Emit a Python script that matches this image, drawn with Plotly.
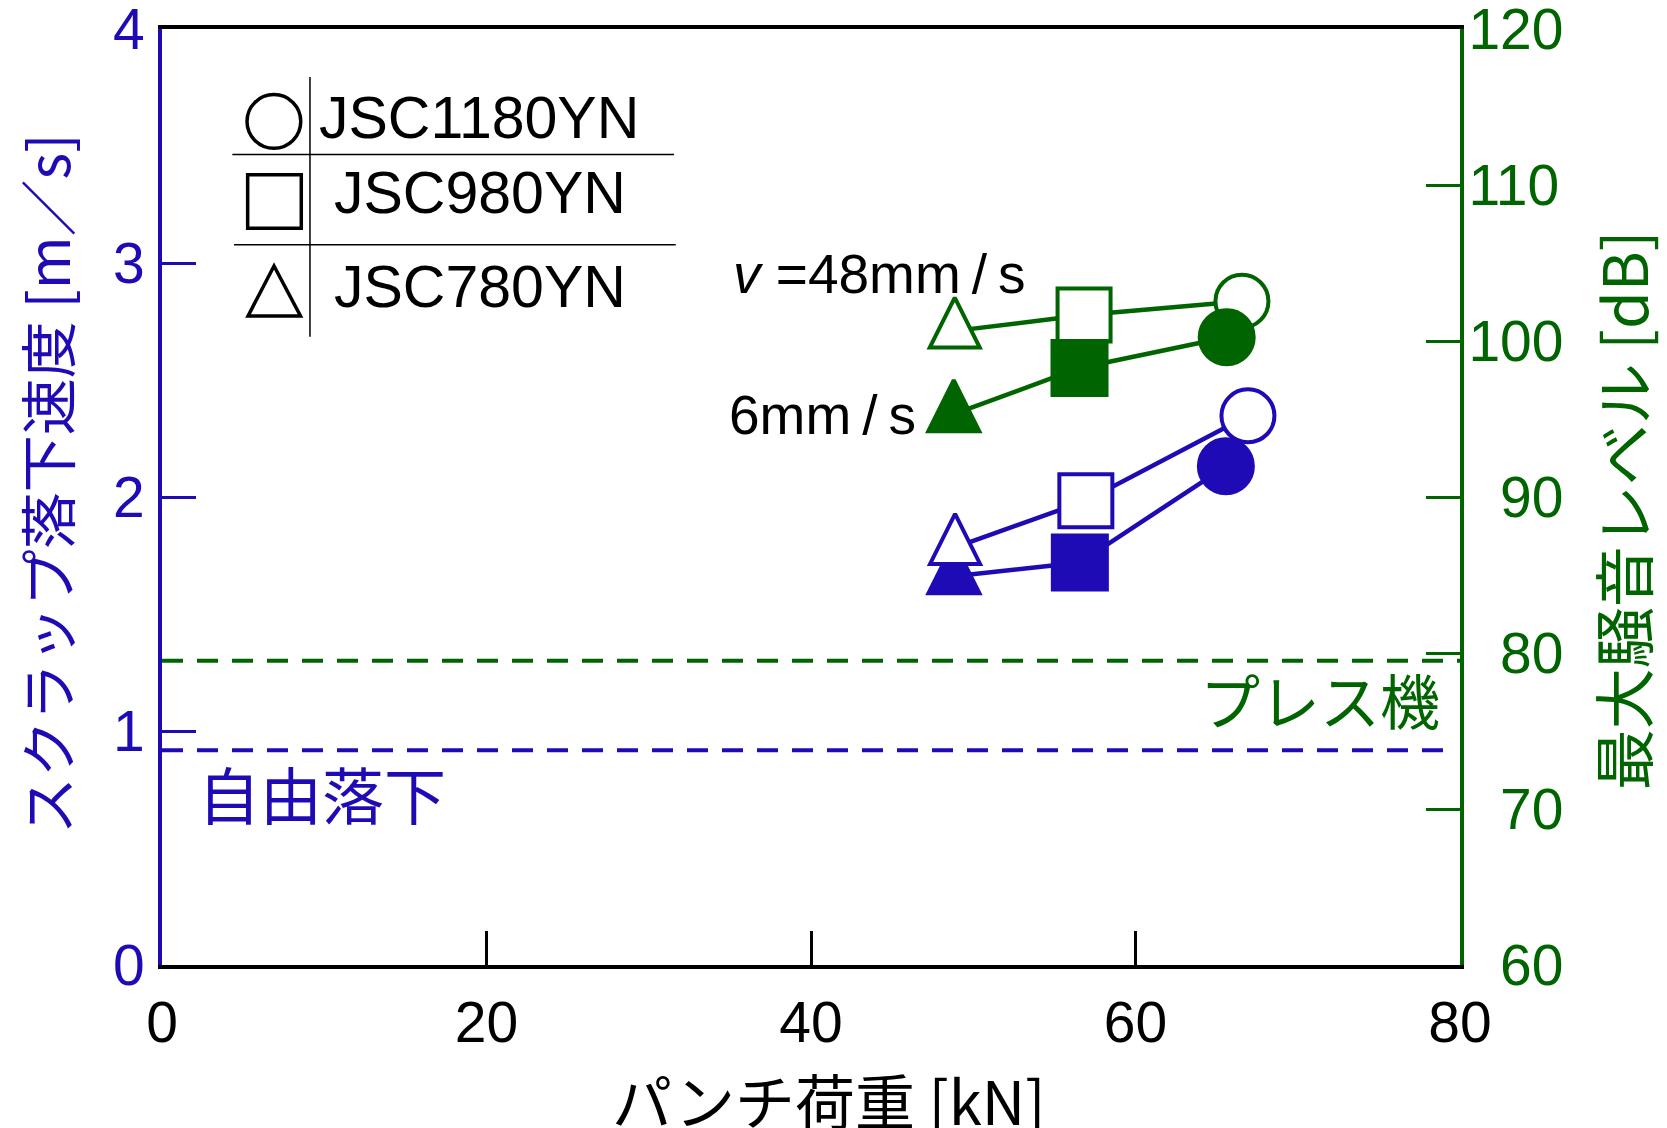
import plotly.graph_objects as go

# ---------------- data ----------------
materials = ["JSC780YN", "JSC980YN", "JSC1180YN"]
# punch load [kN]
load_speed_48 = [48.88, 56.94, 66.93]
load_speed_6 = [48.81, 56.57, 65.57]
load_noise_48 = [48.86, 56.83, 66.56]
load_noise_6 = [48.80, 56.55, 65.62]
# scrap falling speed [m/s]
speed_48 = [1.785, 1.984, 2.347]
speed_6 = [1.661, 1.720, 2.131]
# max noise level [dB]
noise_48 = [100.65, 101.66, 102.55]
noise_6 = [95.31, 98.27, 100.24]
# reference levels
free_fall_speed = 0.918
press_noise = 79.5

x_ticks = [0, 20, 40, 60, 80]
y_ticks = [0, 1, 2, 3, 4]
y2_ticks = [60, 70, 80, 90, 100, 110, 120]
y2_ticklabels = ["\u2007" + str(v) if v < 100 else str(v) for v in y2_ticks]

# ---------------- styles ----------------
BLUE = "#1E0BB6"
GREEN = "#006400"
FONT = "Liberation Sans, Arial, Noto Sans CJK JP"
JFONT = "Noto Sans CJK JP, Liberation Sans"
FS = 57

symbols = ["arrow-down", "square", "circle"]
angles = [180, 0, 0]
TRI = 50
sizes_open = [TRI, 53, 53]
sizes_filled = [TRI + 1, 54, 54]
standoff_open = [TRI / 2 * 4 / 3, 0, 0]
standoff_filled = [(TRI + 1) / 2 * 4 / 3, 0, 0]

fig = go.Figure()


def add_series(x, y, color, filled, yaxis):
    fig.add_trace(go.Scatter(
        x=x, y=y, yaxis=yaxis, mode="lines+markers",
        text=materials, showlegend=False, cliponaxis=False,
        line=dict(color=color, width=4.5),
        marker=dict(
            symbol=symbols, angle=angles, opacity=1,
            standoff=standoff_filled if filled else standoff_open,
            size=sizes_filled if filled else sizes_open,
            color=color if filled else "white",
            line=dict(color=color, width=4),
        ),
    ))


# blue: filled below open ; green: open below filled
add_series(load_speed_6, speed_6, BLUE, True, "y")
add_series(load_speed_48, speed_48, BLUE, False, "y")
add_series(load_noise_48, noise_48, GREEN, False, "y2")
add_series(load_noise_6, noise_6, GREEN, True, "y2")

LW = 3.5
shapes = [
    dict(type="line", xref="paper", yref="y2", x0=0, x1=1, y0=press_noise, y1=press_noise,
         line=dict(color=GREEN, width=4, dash="21px,14px"), layer="below"),
    dict(type="line", xref="paper", yref="y", x0=0, x1=0.993, y0=free_fall_speed, y1=free_fall_speed,
         line=dict(color=BLUE, width=4, dash="21px,14px"), layer="below"),
    # legend table
    dict(type="line", xref="paper", yref="paper", x0=0.1140, x1=0.1140, y0=0.6711, y1=0.9487,
         line=dict(color="black", width=1.5)),
    dict(type="line", xref="paper", yref="paper", x0=0.0542, x1=0.3945, y0=0.8658, y1=0.8658,
         line=dict(color="black", width=1.5)),
    dict(type="line", xref="paper", yref="paper", x0=0.0555, x1=0.3958, y0=0.7694, y1=0.7694,
         line=dict(color="black", width=1.5)),
    dict(type="circle", xref="paper", yref="paper", x0=0.0655, x1=0.1069, y0=0.8726, y1=0.9299,
         line=dict(color="black", width=LW), fillcolor="white"),
    dict(type="rect", xref="paper", yref="paper", x0=0.0660, x1=0.1073, y0=0.7872, y1=0.8444,
         line=dict(color="black", width=LW), fillcolor="white"),
    dict(type="path", xref="paper", yref="paper",
         path="M 0.0663 0.6935 L 0.1067 0.6935 L 0.0863 0.7468 Z",
         line=dict(color="black", width=LW), fillcolor="white"),
]


def note(text, x, y, color, size, family, xanchor="center", angle=0):
    return dict(text=text, xref="paper", yref="paper", x=x, y=y,
                xanchor=xanchor, yanchor="middle", textangle=angle, showarrow=False,
                font=dict(family=family, size=size, color=color))


annotations = [
    note("スクラップ落下速度 [m／s]", -0.0901, 0.5136, BLUE, 57, JFONT, angle=-90),
    note("最大騒音レベル [dB]", 1.1245, 0.4853, GREEN, 61, JFONT, angle=-90),
    note("パンチ荷重 [kN]", 0.5139, -0.1425, "black", 60, JFONT),
    note("<i>v</i> =48mm\u2009/\u2009s", 0.4384, 0.7384, "black", 55, FONT, xanchor="left"),
    note("6mm\u2009/\u2009s", 0.4353, 0.5873, "black", 55, FONT, xanchor="left"),
    note("自由落下", 0.026, 0.184, BLUE, 62, JFONT, xanchor="left"),
    note("プレス機", 0.986, 0.285, GREEN, 60, JFONT, xanchor="right"),
    note("JSC1180YN", 0.1194, 0.9053, "black", 59, FONT, xanchor="left"),
    note("JSC980YN", 0.1310, 0.8244, "black", 59, FONT, xanchor="left"),
    note("JSC780YN", 0.1310, 0.7248, "black", 59, FONT, xanchor="left"),
]

fig.update_layout(
    width=1659, height=1120,
    margin=dict(l=154, r=207, t=21, b=163, pad=0, autoexpand=False),
    paper_bgcolor="white", plot_bgcolor="white",
    font=dict(family=FONT, size=FS),
    showlegend=False,
    shapes=shapes,
    annotations=annotations,
    xaxis=dict(
        range=[0, 80], tickvals=x_ticks, ticks="", showgrid=False, zeroline=False,
        showline=True, linecolor="black", linewidth=4, mirror=True, automargin=False,
        tickfont=dict(family=FONT, size=FS, color="black"), ticklabelstandoff=5,
        ticklabeloverflow="allow",
        minor=dict(tickvals=[20, 40, 60], ticks="inside", ticklen=34, tickwidth=3,
                   tickcolor="black", showgrid=False),
    ),
    yaxis=dict(
        range=[0, 4], tickvals=y_ticks, ticks="", showgrid=False, zeroline=False,
        showline=True, linecolor=BLUE, linewidth=4, automargin=False,
        tickfont=dict(family=FONT, size=FS, color=BLUE), ticklabelstandoff=2,
        ticklabeloverflow="allow",
        minor=dict(tickvals=[1, 2, 3], ticks="inside", ticklen=34, tickwidth=3,
                   tickcolor=BLUE, showgrid=False),
    ),
    yaxis2=dict(
        range=[60, 120], tickvals=y2_ticks, ticktext=y2_ticklabels, ticks="",
        overlaying="y", side="right", showgrid=False, zeroline=False,
        showline=True, linecolor=GREEN, linewidth=4, automargin=False,
        tickfont=dict(family=FONT, size=FS, color=GREEN), ticklabelstandoff=-7,
        ticklabeloverflow="allow",
        minor=dict(tickvals=[70, 80, 90, 100, 110], ticks="inside", ticklen=34, tickwidth=3,
                   tickcolor=GREEN, showgrid=False),
    ),
)

fig.write_html("out.html")
